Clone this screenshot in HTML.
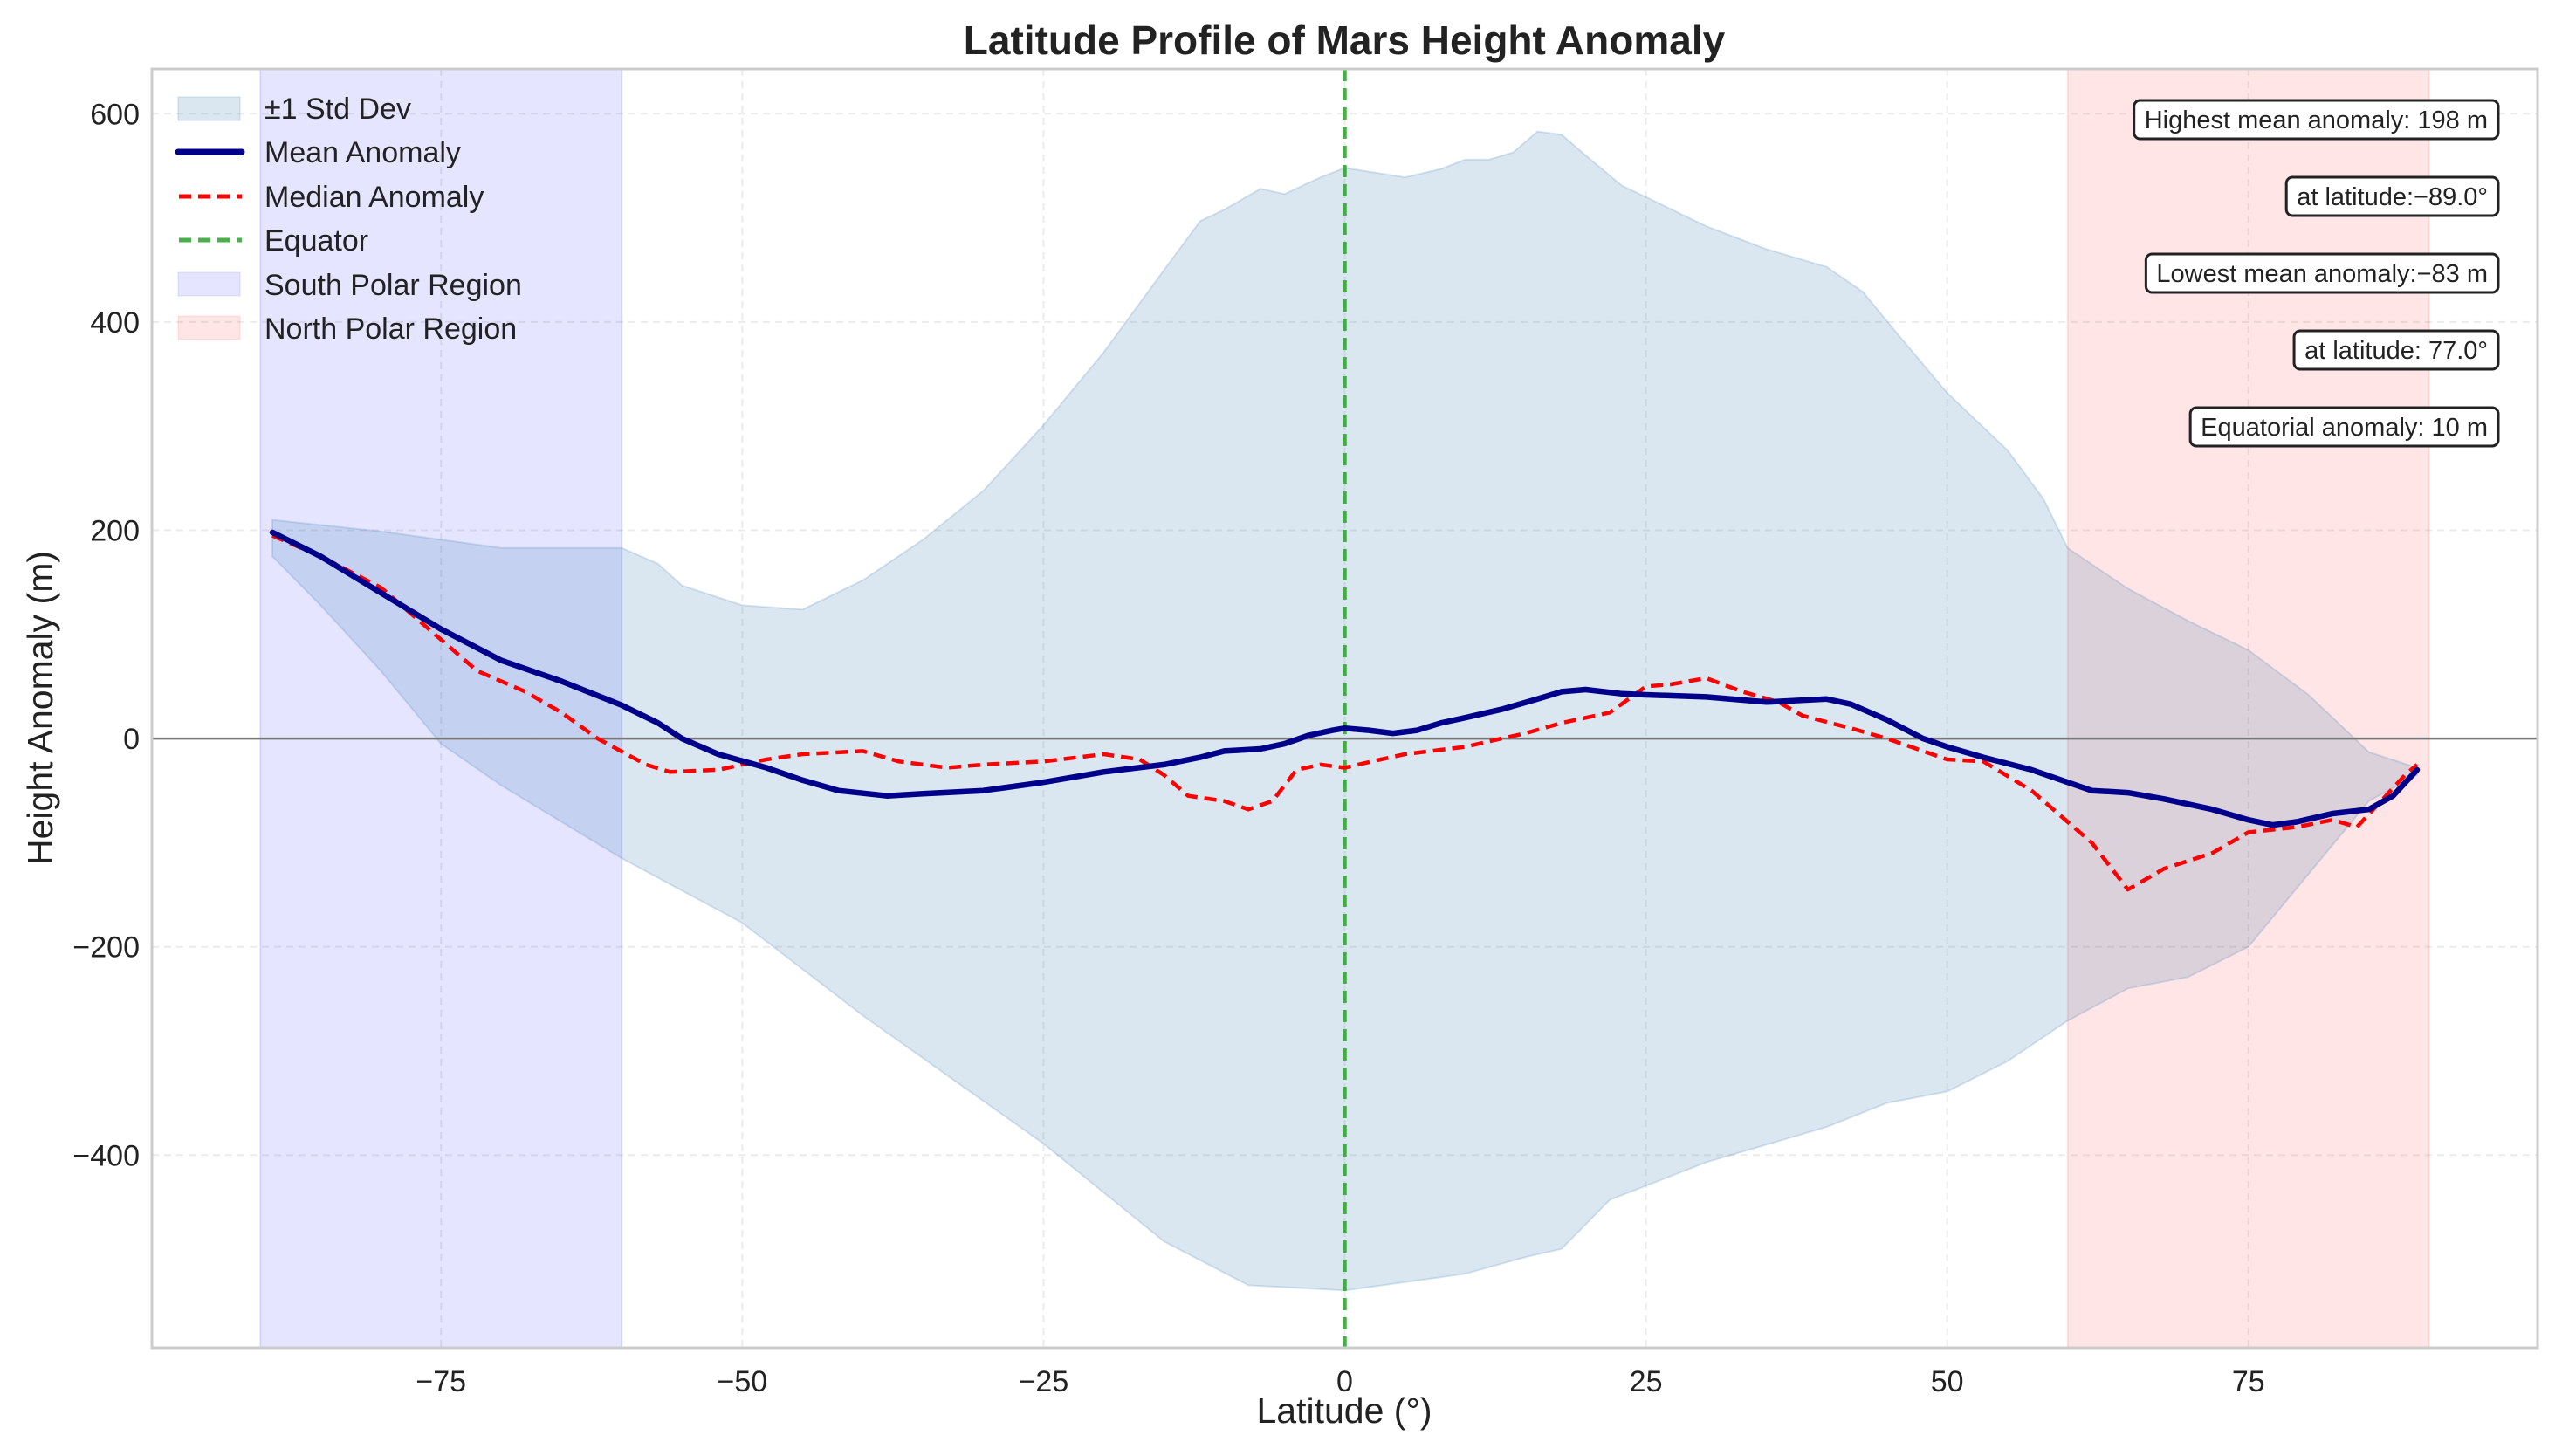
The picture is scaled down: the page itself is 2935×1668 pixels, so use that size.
<!DOCTYPE html>
<html><head><meta charset="utf-8"><style>
html,body{margin:0;padding:0;background:#fff;}
svg{display:block;font-family:"Liberation Sans",Arial,sans-serif;}
</style></head><body>
<svg id="chart" width="2935" height="1668" viewBox="0 0 2935 1668" xmlns="http://www.w3.org/2000/svg">
<rect x="0" y="0" width="2935" height="1668" fill="#fff"/>
<g id="grid"></g>
<g id="regions"></g>
<g id="series"></g>
<g id="axes"></g>
<text x="1540" y="62" text-anchor="middle" font-size="46" font-weight="bold" fill="#222">Latitude Profile of Mars Height Anomaly</text>
<text x="1540" y="1630" text-anchor="middle" font-size="41" fill="#222">Latitude (°)</text>
<text x="60" y="811" text-anchor="middle" font-size="41" fill="#222" transform="rotate(-90 60 811)">Height Anomaly (m)</text>
<g id="legend">
  <rect x="204" y="111" width="71" height="27" fill="#4682b4" fill-opacity="0.2" stroke="#4682b4" stroke-opacity="0.25"/>
  <text x="303" y="136" font-size="34" fill="#222">±1 Std Dev</text>
  <line x1="204" y1="174" x2="277" y2="174" stroke="#00008b" stroke-width="7" stroke-linecap="round"/>
  <text x="303" y="186" font-size="34" fill="#222">Mean Anomaly</text>
  <line x1="205" y1="225" x2="277" y2="225" stroke="#ff0000" stroke-width="5" stroke-dasharray="14,8"/>
  <text x="303" y="237" font-size="34" fill="#222">Median Anomaly</text>
  <line x1="205" y1="275" x2="277" y2="275" stroke="#2ca02c" stroke-opacity="0.85" stroke-width="5" stroke-dasharray="14,8"/>
  <text x="303" y="287" font-size="34" fill="#222">Equator</text>
  <rect x="204" y="312" width="71" height="27" fill="#0000ff" fill-opacity="0.1" stroke="#0000ff" stroke-opacity="0.1"/>
  <text x="303" y="338" font-size="34" fill="#222">South Polar Region</text>
  <rect x="204" y="362" width="71" height="27" fill="#ff0000" fill-opacity="0.1" stroke="#ff0000" stroke-opacity="0.1"/>
  <text x="303" y="388" font-size="34" fill="#222">North Polar Region</text>
</g>
<g id="annotations"></g>
<script>
const latM=[-89,-85,-80,-75,-70,-65,-60,-57,-55,-52,-48,-45,-42,-38,-35,-30,-25,-20,-15,-12,-10,-7,-5,-3,-1,0,2,4,6,8,10,13,16,18,20,23,25,30,35,40,42,45,48,50,53,57,60,62,65,68,72,75,77,79,82,85,87,89];
const meanVals=[198,175,140,105,75,55,32,15,0,-15,-28,-40,-50,-55,-53,-50,-42,-32,-25,-18,-12,-10,-5,3,8,10,8,5,8,15,20,28,38,45,47,43,42,40,35,38,33,18,0,-8,-18,-30,-42,-50,-52,-58,-68,-78,-83,-80,-72,-68,-55,-30];
const latMed=[-89,-85,-80,-75,-72,-68,-65,-62,-58,-56,-52,-48,-45,-40,-37,-33,-30,-25,-20,-17,-15,-13,-10,-8,-6,-4,-2,0,3,5,10,13,15,18,22,25,27,30,33,36,38,42,45,50,53,57,60,62,65,68,72,75,79,82,84,86,88,89];
const medianVals=[195,175,145,95,65,45,25,0,-25,-32,-30,-20,-15,-12,-22,-28,-25,-22,-15,-20,-35,-55,-60,-68,-60,-30,-25,-28,-20,-15,-8,0,5,15,25,50,52,58,45,35,22,10,0,-20,-22,-50,-80,-100,-145,-125,-110,-90,-85,-78,-85,-60,-35,-25];
const latU=[-89,-80,-70,-60,-57,-55,-50,-45,-40,-35,-30,-25,-20,-15,-12,-10,-7,-5,-2,0,5,8,10,12,14,16,18,20,23,25,30,35,40,43,46,50,55,58,60,65,70,75,80,85,89];
const upperVals=[210,199,183,183,168,147,128,124,152,191,238,301,371,450,497,508,528,523,539,548,539,547,556,556,563,583,580,560,531,520,492,470,453,429,387,332,277,230,183,144,113,85,42,-13,-28];
const latL=[-89,-85,-80,-75,-70,-60,-50,-40,-25,-15,-8,0,10,15,18,22,30,40,45,50,55,60,65,70,75,80,85,89];
const lowerVals=[175,128,65,-5,-45,-115,-177,-266,-389,-483,-525,-530,-514,-498,-490,-443,-407,-373,-350,-339,-310,-271,-240,-229,-200,-130,-60,-35];
const xTicks=[-75,-50,-25,0,25,50,75];
const yTicks=[-400,-200,0,200,400,600];
const xTickLabels=["\u221275","\u221250","\u221225","0","25","50","75"];
const yTickLabels=["\u2212400","\u2212200","0","200","400","600"];
const annTexts=["Highest mean anomaly: 198 m","at latitude:\u221289.0°","Lowest mean anomaly:\u221283 m","at latitude: 77.0°","Equatorial anomaly: 10 m"];

const PL=174,PR=2907,PT=79,PB=1544,XMIN=-99,XMAX=99,YMIN=-585,YMAX=643;
const NS="http://www.w3.org/2000/svg";
function sx(v){return PL+(v-XMIN)/(XMAX-XMIN)*(PR-PL);}
function sy(v){return PB-(v-YMIN)/(YMAX-YMIN)*(PB-PT);}
function mk(tag,attrs,parent){const e=document.createElementNS(NS,tag);for(const k in attrs)e.setAttribute(k,attrs[k]);parent.appendChild(e);return e;}
const grid=document.getElementById('grid'),regions=document.getElementById('regions'),series=document.getElementById('series'),axes=document.getElementById('axes'),ann=document.getElementById('annotations');

xTicks.forEach((t,i)=>{
  const l=mk('line',{x1:sx(t),x2:sx(t),y1:PT,y2:PB,stroke:'#ebebeb','stroke-width':2,'stroke-dasharray':'8,6'},grid);
  
  
  const tx=mk('text',{x:sx(t),y:PB+50,'text-anchor':'middle','font-size':34,fill:'#222'},axes);
  tx.textContent=xTickLabels[i];
  
  
});
yTicks.forEach((t,i)=>{
  const l=mk('line',{x1:PL,x2:PR,y1:sy(t),y2:sy(t),stroke:'#ebebeb','stroke-width':2,'stroke-dasharray':'8,6'},grid);
  
  
  const tx=mk('text',{x:PL-14,y:sy(t)+12,'text-anchor':'end','font-size':34,fill:'#222'},axes);
  tx.textContent=yTickLabels[i];
  
  
});
const south=mk('rect',{x:sx(-90),y:PT,width:sx(-60)-sx(-90),height:PB-PT,fill:'#0000ff','fill-opacity':0.1,stroke:'#0000ff','stroke-opacity':0.1,'stroke-width':2},regions);


const north=mk('rect',{x:sx(60),y:PT,width:sx(90)-sx(60),height:PB-PT,fill:'#ff0000','fill-opacity':0.1,stroke:'#ff0000','stroke-opacity':0.1,'stroke-width':2},regions);



function pts(xs,ys){return xs.map((x,i)=>sx(x).toFixed(1)+','+sy(ys[i]).toFixed(1));}
const band=pts(latU,upperVals).concat(pts(latL,lowerVals).reverse());
const bandEl=mk('polygon',{points:band.join(' '),fill:'#4682b4','fill-opacity':0.2,stroke:'#4682b4','stroke-opacity':0.2,'stroke-width':2},series);


const zero=mk('line',{x1:PL,x2:PR,y1:sy(0),y2:sy(0),stroke:'#777','stroke-width':2.5},series);


const eq=mk('line',{x1:sx(0),x2:sx(0),y1:PT,y2:PB,stroke:'#2ca02c','stroke-opacity':0.85,'stroke-width':4.5,'stroke-dasharray':'14,8'},series);


const med=mk('polyline',{points:pts(latMed,medianVals).join(' '),fill:'none',stroke:'#ff0000','stroke-width':4.5,'stroke-dasharray':'14,8','stroke-linejoin':'round'},series);


const mean=mk('polyline',{points:pts(latM,meanVals).join(' '),fill:'none',stroke:'#00008b','stroke-width':6.5,'stroke-linejoin':'round','stroke-linecap':'round'},series);



const frame=mk('rect',{x:PL,y:PT,width:PR-PL,height:PB-PT,fill:'none',stroke:'#cccccc','stroke-width':3},axes);



annTexts.forEach((s,i)=>{
  const cy=137+i*88;
  const t=mk('text',{x:2850,y:cy+10,'text-anchor':'end','font-size':29,fill:'#222'},ann);
  t.textContent=s;
  
  
  const w=t.getComputedTextLength();
  const r=mk('rect',{x:2850-w-12,y:cy-22,width:w+24,height:44,rx:7,fill:'#fff',stroke:'#222','stroke-width':3},ann);
  
  
  ann.insertBefore(r,t);
});
</script>
</svg>
</body></html>
